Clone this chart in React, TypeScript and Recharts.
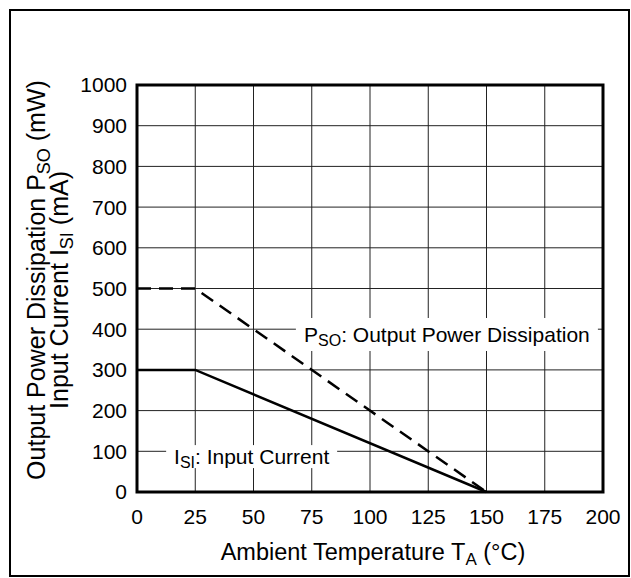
import React from 'react';
import {
  LineChart,
  Line,
  XAxis,
  YAxis,
  CartesianGrid,
  ReferenceArea,
  ReferenceDot,
} from 'recharts';

// values
const temps = [0, 25, 150];
const outputPower = [500, 500, 0];
const inputCurrent = [300, 300, 0];

const xTicks = [0, 25, 50, 75, 100, 125, 150, 175, 200];
const yTicks = [0, 100, 200, 300, 400, 500, 600, 700, 800, 900, 1000];

const data = temps.map((t, i) => ({ t, pso: outputPower[i], isi: inputCurrent[i] }));

const FONT = '"Liberation Sans", Arial, Helvetica, sans-serif';

// callout labels sitting on the grid with a white box behind
const boxLabel = (main: string, sub: string, rest: string, w: number, h: number) => (props: any) => {
  const vb = props.viewBox || {};
  const cx = vb.x + (vb.width || 0) / 2;
  const cy = vb.y + (vb.height || 0) / 2;
  return (
    <g>
      <rect x={cx - w / 2} y={cy - h / 2} width={w} height={h} fill="#fff" />
      <text x={cx} y={cy + 7.5} textAnchor="middle" fontFamily={FONT} fontSize={21} fill="#000">
        {main}
        <tspan fontSize={16} dy={4}>{sub}</tspan>
        <tspan dy={-4}>{rest}</tspan>
      </text>
    </g>
  );
};

const XTitle = (props: any) => {
  const vb = props.viewBox;
  const cx = vb.x + vb.width / 2 + 3;
  return (
    <text x={cx} y={560} textAnchor="middle" fontFamily={FONT} fontSize={23.5} fill="#000">
      Ambient Temperature T
      <tspan fontSize={17} dy={5}>A</tspan>
      <tspan dy={-5}> (°C)</tspan>
    </text>
  );
};

const YTitle = () => {
  const x1 = 45;
  const y1 = 280;
  const x2 = 68;
  const y2 = 290;
  return (
    <g fontFamily={FONT} fontSize={25} fill="#000">
      <text x={x1} y={y1} textAnchor="middle" transform={`rotate(-90 ${x1} ${y1})`}>
        Output Power Dissipation P
        <tspan fontSize={18} dy={5}>SO</tspan>
        <tspan dy={-5}> (mW)</tspan>
      </text>
      <text x={x2} y={y2} textAnchor="middle" transform={`rotate(-90 ${x2} ${y2})`}>
        Input Current I
        <tspan fontSize={18} dy={5}>SI</tspan>
        <tspan dy={-5}> (mA)</tspan>
      </text>
    </g>
  );
};

export default function App() {
  const tickStyle = { fontFamily: FONT, fontSize: 21, fill: '#000' };
  return (
    <div style={{ position: 'absolute', left: 0, top: 0, width: 631, height: 578, overflow: 'hidden', background: '#fff' }}>
      <div
        style={{
          position: 'absolute',
          left: 9,
          top: 9,
          width: 621,
          height: 568,
          boxSizing: 'border-box',
          border: '2.5px solid #000',
        }}
      />
      <div style={{ position: 'absolute', left: 0, top: 0 }}>
        <LineChart width={631} height={578} data={data} margin={{ top: 85, right: 28, bottom: 0, left: 0 }}>
          <CartesianGrid stroke="#222" strokeWidth={1} />
          <XAxis
            dataKey="t"
            type="number"
            domain={[0, 200]}
            ticks={xTicks}
            interval={0}
            axisLine={false}
            tickLine={false}
            tickSize={6}
            tickMargin={11}
            height={86}
            tick={tickStyle}
            label={{ content: XTitle }}
          />
          <YAxis
            type="number"
            domain={[0, 1000]}
            ticks={yTicks}
            interval={0}
            axisLine={false}
            tickLine={false}
            tickSize={6}
            tickMargin={4}
            width={137}
            tick={tickStyle}
            label={{ content: YTitle }}
          />
          <ReferenceArea
            x1={0}
            x2={200}
            y1={0}
            y2={1000}
            fill="none"
            fillOpacity={0}
            stroke="#000"
            strokeWidth={3}
            ifOverflow="visible"
          />
          <ReferenceDot
            x={133}
            y={387}
            r={0}
            fill="none"
            stroke="none"
            label={{ content: boxLabel('P', 'SO', ': Output Power Dissipation', 302, 33) }}
          />
          <ReferenceDot
            x={49.2}
            y={87}
            r={0}
            fill="none"
            stroke="none"
            label={{ content: boxLabel('I', 'SI', ': Input Current', 171, 23) }}
          />
          <Line
            type="linear"
            dataKey="pso"
            stroke="#000"
            strokeWidth={2.5}
            strokeDasharray="14 8"
            dot={false}
            activeDot={false}
            isAnimationActive={false}
          />
          <Line
            type="linear"
            dataKey="isi"
            stroke="#000"
            strokeWidth={2.5}
            dot={false}
            activeDot={false}
            isAnimationActive={false}
          />
        </LineChart>
      </div>
    </div>
  );
}
